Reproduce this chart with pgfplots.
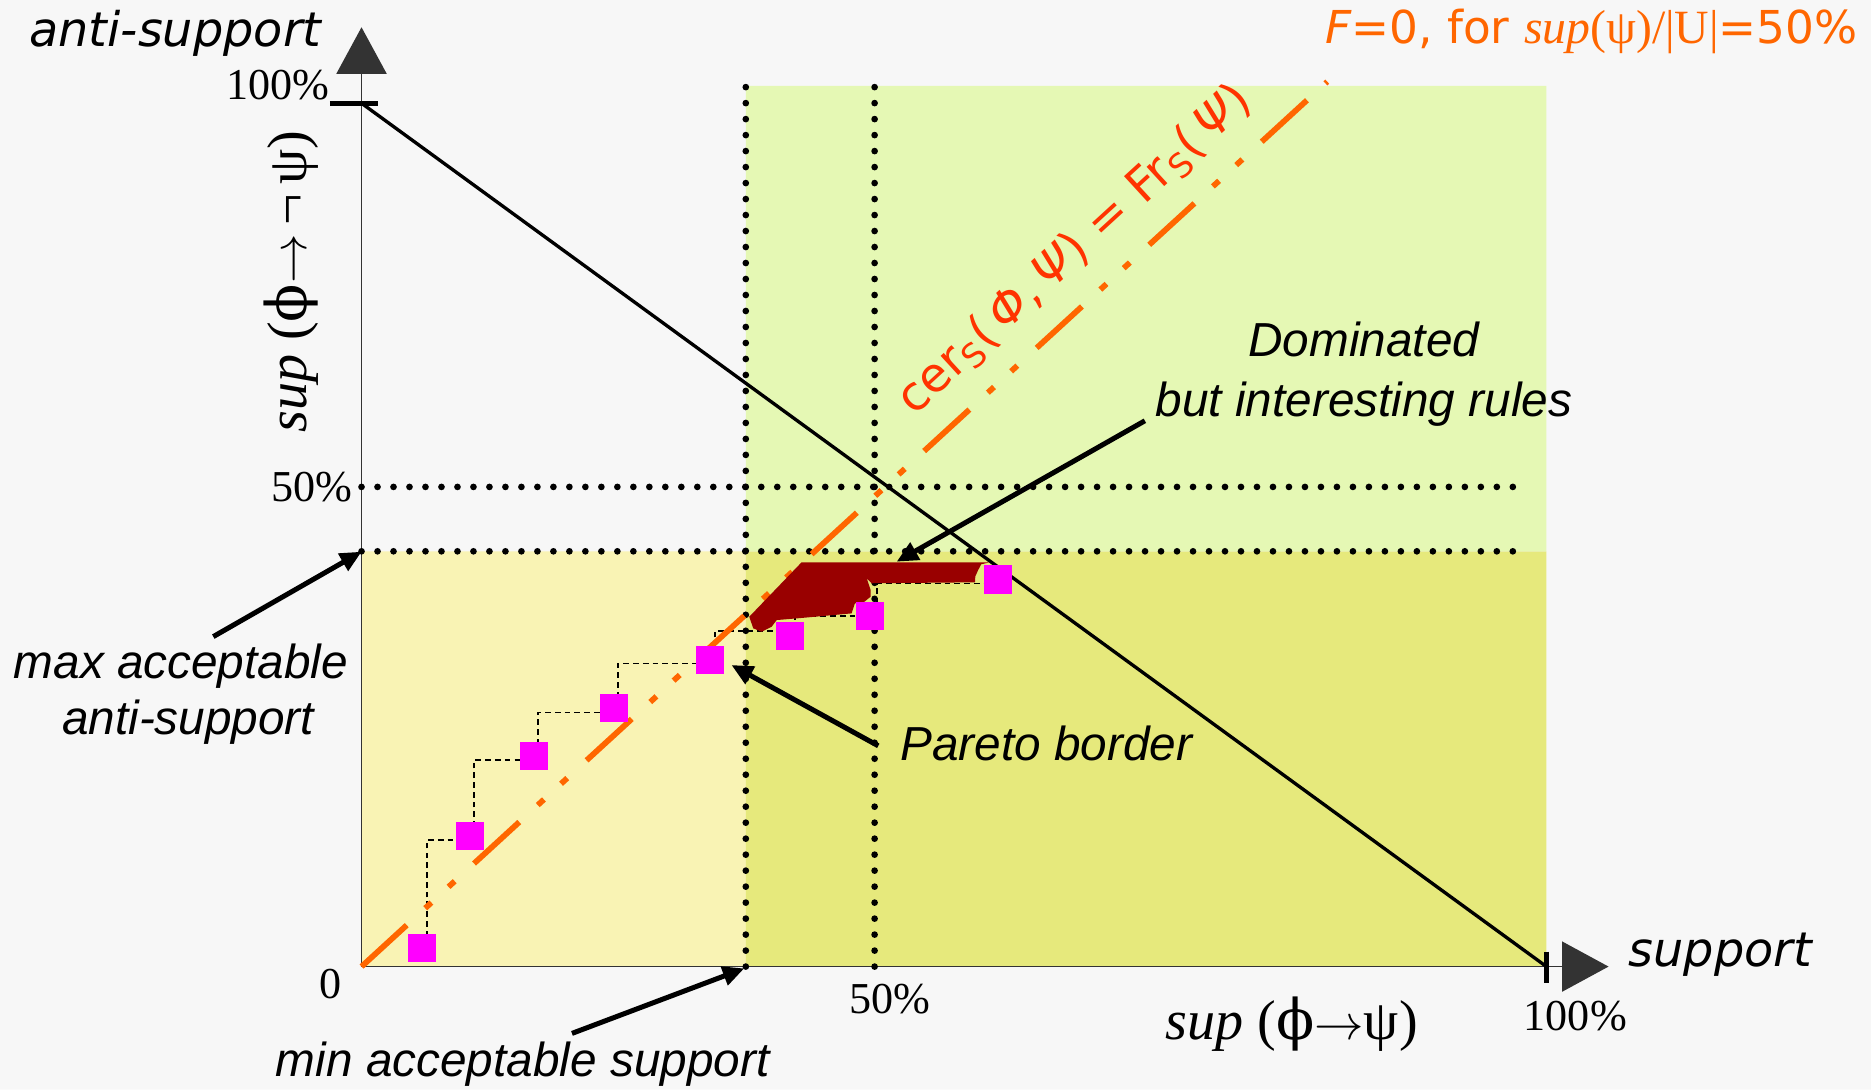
\documentclass[border=0pt]{standalone}
\usepackage{pgfplots}
\pgfplotsset{compat=1.18}
\usetikzlibrary{arrows.meta}
\usepackage{fontspec}
\setmainfont{Liberation Serif}
\newfontfamily\arialf{Liberation Sans}
\newfontfamily\verd{DejaVu Sans}
\newfontfamily\dserif{DejaVu Serif}

\definecolor{bgc}{HTML}{F7F7F7}
\definecolor{ylight}{HTML}{F9F3B4}
\definecolor{ydark}{HTML}{E6E97C}
\definecolor{glight}{HTML}{E5F8B4}
\definecolor{orng}{HTML}{FF6600}
\definecolor{redo}{HTML}{FF3300}
\definecolor{blob}{HTML}{990000}
\definecolor{mag}{HTML}{FF00FF}

\newcommand{\arw}{{\fontsize{21}{22}\selectfont$\rightarrow$}}

\begin{document}
\begin{tikzpicture}[
  every node/.append style={inner sep=0pt},
  dotl/.style={line width=2.8pt, line cap=round, dash pattern=on 0pt off 6.7pt},
  arr/.style={line width=2.1pt, -{Triangle[length=9pt,width=8pt]}},
  lab/.style={font=\arialf\itshape\fontsize{20}{24}\selectfont},
  tck/.style={font=\fontsize{18.5}{22}\selectfont},
]
\begin{axis}[
  hide axis, clip=false,
  x=4.965pt, y=3.6175pt,
  xmin=-30.51, xmax=127.39, ymin=-14.24, ymax=111.96,
]
% background and zones
\addplot[fill=bgc, draw=none] coordinates {(-30.51,-14.24) (127.39,-14.24) (127.39,111.96) (-30.51,111.96) (-30.51,-14.24)};
\addplot[fill=ylight, draw=none] coordinates {(0,0) (32.43,0) (32.43,48.10) (0,48.10) (0,0)};
\addplot[fill=ydark, draw=none] coordinates {(32.43,0) (100,0) (100,48.10) (32.43,48.10) (32.43,0)};
\addplot[fill=glight, draw=none] coordinates {(32.43,48.10) (100,48.10) (100,102.0) (32.43,102.0) (32.43,48.10)};

% axes
\addplot[black!80, line width=0.6pt, -{Triangle[length=19.5pt,width=21pt]}] coordinates {(0,0) (105.24,0)};
\addplot[black!80, line width=0.6pt, -{Triangle[length=19.5pt,width=21pt]}] coordinates {(0,0) (0,108.8)};
\addplot[black, line width=2.1pt] coordinates {(-2.67,100) (1.39,100)};
\addplot[black, line width=2.2pt] coordinates {(100,1.73) (100,-1.94)};

% thresholds
\addplot[dotl] coordinates {(32.43,0) (32.43,102.0)};
\addplot[dotl] coordinates {(43.30,0) (43.30,102.0)};
\addplot[dotl] coordinates {(0,55.56) (97.9,55.56)};
\addplot[dotl] coordinates {(0,48.10) (97.9,48.10)};

% F = 0 diagonal
\addplot[black, line width=1.4pt] coordinates {(0,100) (100,0)};

% pareto staircase
\addplot[black, line width=0.7pt, dash pattern=on 2.4pt off 1.7pt] coordinates {
(5.50,2.35) (5.50,14.65) (9.47,14.65) (9.47,23.91) (14.90,23.91) (14.90,29.44)
(21.65,29.44) (21.65,35.11) (29.81,35.11) (29.81,38.84) (36.56,38.84) (36.56,40.64)
(43.50,40.64) (43.50,44.37) (53.68,44.37)};

% rules
\addplot[only marks, mark=square*, mark size=5.7pt, color=mag] coordinates {
(5.10,2.18) (9.15,15.16) (14.55,24.42) (21.31,29.98) (29.41,35.55)
(36.15,38.33) (42.90,40.64) (53.68,44.85)};

% cer = Frs line
\addplot[orng, line width=2.4pt, dash pattern=on 25.7pt off 10.5pt on 3.5pt off 9.75pt on 3.5pt off 11pt]
coordinates {(0,0) (81.5,102.5)};

% dominated zone
\addplot[fill=blob, draw=none] coordinates {
(37.14,46.83) (53.03,46.83) (52.30,46.60) (52.04,45.93) (51.80,45.20) (51.77,44.51)
(43.05,44.40) (42.63,44.98) (42.97,43.60) (42.97,42.85) (42.35,42.16) (41.64,42.07)
(41.36,40.91) (36.72,40.33) (35.04,40.14) (34.61,39.36) (33.77,38.78) (33.06,39.18)
(32.72,40.52) (37.14,46.83)};

% arrows
\addplot[arr] coordinates {(66.11,63.22) (45.16,46.90)};
\addplot[arr] coordinates {(43.61,25.57) (31.22,34.93)};
\addplot[arr] coordinates {(-12.51,38.22) (0.01,48.06)};
\addplot[arr] coordinates {(17.76,-7.74) (32.30,-0.21)};

% texts
\node[anchor=base west, font=\verd\itshape\fontsize{20}{24}\selectfont] at (axis cs:-28.07,106.57) {anti-support};
\node[anchor=base west, font=\verd\itshape\fontsize{20}{24}\selectfont] at (axis cs:106.90,0) {support};
\node[anchor=base east, tck] at (axis cs:-2.67,100.48) {100\%};
\node[anchor=base east, tck] at (axis cs:-0.70,53.90) {50\%};
\node[anchor=base east, tck] at (axis cs:-1.61,-3.68) {0};
\node[anchor=base, tck] at (axis cs:44.61,-5.42) {50\%};
\node[anchor=base west, tck] at (axis cs:98.05,-7.35) {100\%};
\node[anchor=base west, font=\fontsize{23.5}{26}\selectfont] at (axis cs:67.82,-8.50)
  {\textit{sup} ({\dserif ϕ}\arw ψ)};
\node[anchor=base west, rotate=90, font=\fontsize{23.5}{26}\selectfont] at (axis cs:-4.62,61.78)
  {\textit{sup} ({\dserif ϕ}\arw\,¬\,ψ)};
\node[anchor=base, lab] at (axis cs:84.59,70.64) {Dominated};
\node[anchor=base, lab] at (axis cs:84.59,63.69) {but interesting rules};
\node[anchor=base west, lab] at (axis cs:45.42,23.91) {Pareto border};
\node[anchor=base west, lab] at (axis cs:-29.39,33.38) {max acceptable};
\node[anchor=base west, lab] at (axis cs:-25.31,26.94) {anti-support};
\node[anchor=base west, lab] at (axis cs:-7.26,-12.76) {min acceptable support};
\node[anchor=base west, text=orng, font=\verd\fontsize{19}{22}\selectfont] at (axis cs:81.27,106.94)
  {\textit{F}=0, for {\rmfamily\fontsize{20}{22}\selectfont\textit{sup}(ψ)/|U|}=50\%};
\node[anchor=base west, rotate=42.5, text=redo, font=\verd\fontsize{20}{24}\selectfont] at (axis cs:46.6,63.7)
  {cer\textsubscript{S}(\,\textit{Φ},\,\textit{Ψ}) = Fr\textsubscript{S}(\,\textit{Ψ})};
\end{axis}
\end{tikzpicture}
\end{document}
